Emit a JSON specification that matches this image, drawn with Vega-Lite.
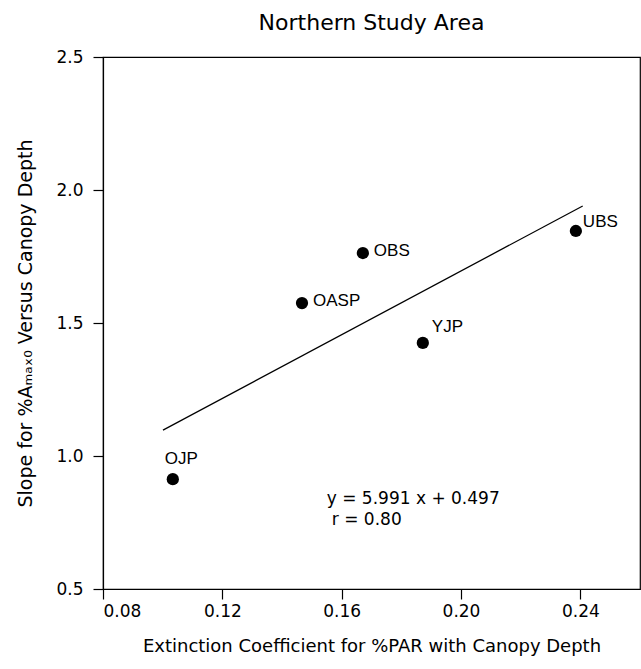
{
  "$schema": "https://vega.github.io/schema/vega-lite/v6.json",
  "autosize": "none",
  "width": 537,
  "height": 532,
  "padding": {"left": 103, "top": 57, "right": 1, "bottom": 80},
  "background": "white",
  "config": {
    "font": "DejaVu Sans",
    "view": {"stroke": "black", "strokeWidth": 1.2},
    "axis": {"domainColor": "black", "tickColor": "black", "labelColor": "black", "titleColor": "black", "grid": false, "labelFont": "DejaVu Sans", "titleFont": "DejaVu Sans", "titleFontWeight": "normal", "labelFontSize": 17, "titleFontSize": 17, "tickSize": 10, "domainWidth": 1.2, "tickWidth": 1.2}
  },
  "title": {"text": "Northern Study Area", "fontSize": 22, "fontWeight": "normal", "font": "DejaVu Sans", "color": "black", "offset": 13, "anchor": "middle"},
  "datasets": {
    "pts": [
      {"stand": "OJP", "k": 0.1034, "slope": 0.913},
      {"stand": "OASP", "k": 0.1467, "slope": 1.575},
      {"stand": "OBS", "k": 0.1671, "slope": 1.763},
      {"stand": "YJP", "k": 0.1872, "slope": 1.425},
      {"stand": "UBS", "k": 0.2385, "slope": 1.846}
    ],
    "fit": [
      {"k": 0.1001, "slope": 1.097},
      {"k": 0.2408, "slope": 1.940}
    ],
    "notes": [
      {"text": "y = 5.991 x + 0.497", "k": 0.1550, "slope": 0.838},
      {"text": "r = 0.80", "k": 0.1567, "slope": 0.759}
    ]
  },
  "layer": [
    {
      "data": {"name": "fit"},
      "mark": {"type": "line", "color": "black", "strokeWidth": 1.3},
      "encoding": {
        "x": {"field": "k", "type": "quantitative", "scale": {"domain": [0.08, 0.26], "nice": false, "zero": false},
          "axis": {"values": [0.08, 0.12, 0.16, 0.2, 0.24], "format": ".2f", "title": "Extinction Coefficient for %PAR with Canopy Depth", "titleFontSize": 18, "labelPadding": 4, "titlePadding": 18}},
        "y": {"field": "slope", "type": "quantitative", "scale": {"domain": [0.5, 2.5], "nice": false, "zero": false},
          "axis": {"values": [0.5, 1.0, 1.5, 2.0, 2.5], "format": ".1f", "title": "Slope for %Aₘₐₓ₀ Versus Canopy Depth", "titleFontSize": 19, "labelPadding": 10, "titlePadding": 20}}
      }
    },
    {
      "data": {"name": "pts"},
      "mark": {"type": "point", "filled": true, "color": "black", "opacity": 1, "size": 150},
      "encoding": {
        "x": {"field": "k", "type": "quantitative"},
        "y": {"field": "slope", "type": "quantitative"}
      }
    },
    {
      "data": {"name": "pts"},
      "transform": [{"filter": "datum.stand === 'OASP' || datum.stand === 'OBS'"}],
      "mark": {"type": "text", "align": "left", "baseline": "middle", "dx": 11, "dy": -2, "fontSize": 17, "font": "Liberation Sans", "color": "black"},
      "encoding": {
        "x": {"field": "k", "type": "quantitative"},
        "y": {"field": "slope", "type": "quantitative"},
        "text": {"field": "stand"}
      }
    },
    {
      "data": {"name": "pts"},
      "transform": [{"filter": "datum.stand === 'UBS'"}],
      "mark": {"type": "text", "align": "left", "baseline": "middle", "dx": 7, "dy": -9, "fontSize": 17, "font": "Liberation Sans", "color": "black"},
      "encoding": {
        "x": {"field": "k", "type": "quantitative"},
        "y": {"field": "slope", "type": "quantitative"},
        "text": {"field": "stand"}
      }
    },
    {
      "data": {"name": "pts"},
      "transform": [{"filter": "datum.stand === 'OJP'"}],
      "mark": {"type": "text", "align": "left", "baseline": "middle", "dx": -8, "dy": -20, "fontSize": 17, "font": "Liberation Sans", "color": "black"},
      "encoding": {
        "x": {"field": "k", "type": "quantitative"},
        "y": {"field": "slope", "type": "quantitative"},
        "text": {"field": "stand"}
      }
    },
    {
      "data": {"name": "pts"},
      "transform": [{"filter": "datum.stand === 'YJP'"}],
      "mark": {"type": "text", "align": "left", "baseline": "middle", "dx": 9, "dy": -16, "fontSize": 17, "font": "Liberation Sans", "color": "black"},
      "encoding": {
        "x": {"field": "k", "type": "quantitative"},
        "y": {"field": "slope", "type": "quantitative"},
        "text": {"field": "stand"}
      }
    },
    {
      "data": {"name": "notes"},
      "mark": {"type": "text", "align": "left", "baseline": "middle", "fontSize": 17, "color": "black"},
      "encoding": {
        "x": {"field": "k", "type": "quantitative"},
        "y": {"field": "slope", "type": "quantitative"},
        "text": {"field": "text"}
      }
    }
  ]
}
